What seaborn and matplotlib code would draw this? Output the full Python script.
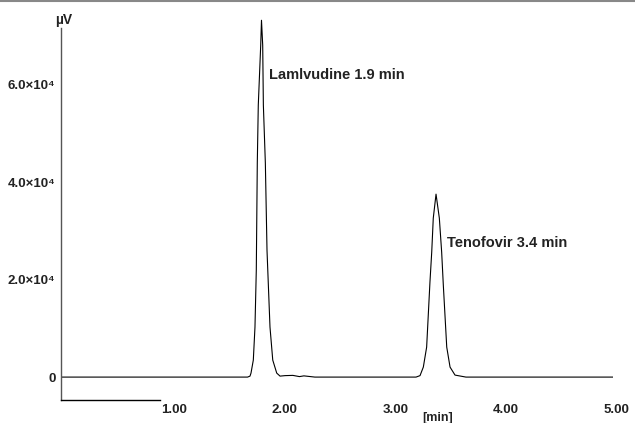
import matplotlib
matplotlib.use("Agg")
import matplotlib.pyplot as plt
import matplotlib.transforms as mtransforms
from matplotlib.lines import Line2D
import seaborn as sns
import pandas as pd

# chromatogram trace: retention time [min] vs signal [uV]
time_min = [0.00, 0.50, 1.00, 1.50, 1.69, 1.712, 1.721, 1.742, 1.757, 1.769, 1.778,
            1.787, 1.809, 1.816, 1.827, 1.833, 1.851, 1.866, 1.893, 1.918, 1.954,
            1.984, 2.03, 2.10, 2.16, 2.20, 2.30, 2.50, 2.80, 3.00, 3.216, 3.252,
            3.282, 3.312, 3.342, 3.358, 3.372, 3.397, 3.427, 3.448, 3.463, 3.494,
            3.524, 3.569, 3.668, 4.00, 4.50, 5.00]
signal_uv = [0, 0, 0, 0, 0, 200, 820, 3490, 10260, 21950, 43900,
             55800, 68100, 73200, 68100, 55800, 43900, 26000, 10260, 3490, 820,
             200, 300, 350, 100, 250, 0, 0, 0, 0, 0, 300,
             2050, 6150, 19500, 25640, 32600, 37530, 32600, 25640, 18870, 6150,
             2050, 410, 0, 0, 0, 0]

peak_names = ["Lamlvudine 1.9 min", "Tenofovir 3.4 min"]
peak_label_pos = [(1.88, 62000), (3.50, 27500)]

y_ticks = [0, 20000, 40000, 60000]
y_tick_labels = ["0", "2.0×10⁴", "4.0×10⁴", "6.0×10⁴"]
x_ticks = [1, 2, 3, 4, 5]
x_tick_labels = ["1.00", "2.00", "3.00", "4.00", "5.00"]

df = pd.DataFrame({"time": time_min, "signal": signal_uv})

sns.set_style("white")
plt.rcParams["font.family"] = ["Liberation Sans", "DejaVu Sans"]
plt.rcParams["font.weight"] = "bold"

fig = plt.figure(figsize=(6.35, 4.23), dpi=100)
# axes spans pixel rows 11..400, columns 61..613
ax = fig.add_axes([61 / 635, 1 - 400 / 423, (613 - 61) / 635, (400 - 11) / 423])

sns.lineplot(data=df, x="time", y="signal", ax=ax, color="black",
             linewidth=0.8, estimator=None, sort=False)

ax.set_xlim(0, 5)
ax.set_ylim(-4700, 75100)

for sp in ["top", "right"]:
    ax.spines[sp].set_visible(False)
ax.spines["left"].set_color("#555555")
ax.spines["left"].set_linewidth(1.0)
ax.spines["left"].set_bounds(-4700, 71600)
ax.spines["bottom"].set_color("black")
ax.spines["bottom"].set_linewidth(1.0)
ax.spines["bottom"].set_bounds(0, 0.9)

ax.set_yticks(y_ticks)
ax.set_yticklabels(y_tick_labels, fontsize=9.5, fontweight="bold", color="#222222")
ax.tick_params(axis="y", length=4, width=0.8, color="#333333", pad=0)
ax.set_xticks(x_ticks)
ax.set_xticklabels(x_tick_labels, fontsize=9.5, fontweight="bold", color="#222222")
ax.tick_params(axis="x", length=0, pad=3)
shift = mtransforms.ScaledTranslation(3 / 100, 0, fig.dpi_scale_trans)
for lab in ax.get_xticklabels():
    lab.set_transform(lab.get_transform() + shift)

ax.set_xlabel("")
ax.set_ylabel("")

for name, (tx, ty) in zip(peak_names, peak_label_pos):
    ax.text(tx, ty, name, fontsize=10.5, fontweight="bold", ha="left", va="center",
            color="#222222")

fig.text(64 / 635, 1 - 20 / 423, "µV", fontsize=10, fontweight="bold",
         ha="center", va="center", color="#222222")
fig.text(438 / 635, 1 - 418 / 423, "[min]", fontsize=9, fontweight="bold",
         ha="center", va="center", color="#222222")
fig.add_artist(Line2D([0, 1], [0.998, 0.998], color="#888888", linewidth=1.5,
                      transform=fig.transFigure))

fig.savefig("out.png", dpi=100)
